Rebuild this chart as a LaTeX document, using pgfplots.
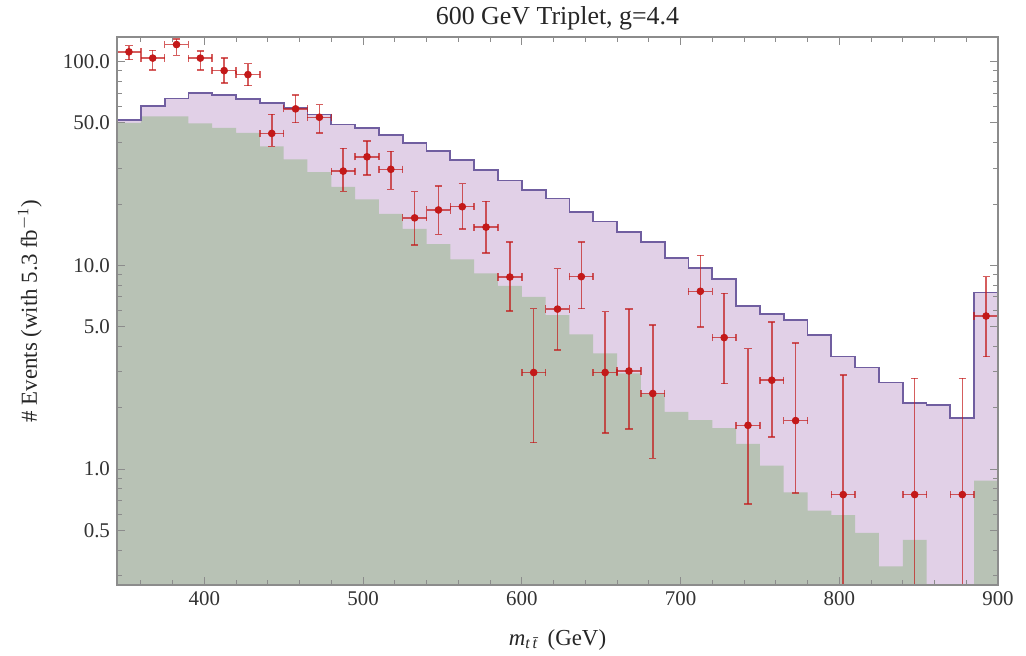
\documentclass[border=0pt]{standalone}
\usepackage{pgfplots}
\pgfplotsset{compat=1.18}
\usepackage{fontspec}
\setmainfont{Liberation Serif}
\definecolor{bgreen}{RGB}{184,194,181}
\definecolor{sigfill}{RGB}{225,208,231}
\definecolor{sigline}{RGB}{112,94,160}
\definecolor{datred}{RGB}{195,25,25}
\definecolor{framegray}{RGB}{140,140,140}
\begin{document}
\begin{tikzpicture}
\begin{axis}[
  name=ax,
  scale only axis,
  width=440.5bp, height=274bp,
  xmin=345, xmax=900,
  ymode=log, ymin=0.27, ymax=132,
  axis on top=true,
  axis line style={framegray, line width=0.6bp},
  tick style={framegray, line width=0.5bp},
  major tick length=4bp, minor tick length=2.5bp,
  xtick={400,500,600,700,800,900},
  minor xtick={360,380,...,880},
  ytick={0.5,1,5,10,50,100},
  yticklabels={0.5,1.0,5.0,10.0,50.0,100.0},
  minor ytick={0.3,0.4,0.6,0.7,0.8,0.9,2,3,4,6,7,8,9,20,30,40,60,70,80,90},
  /pgf/number format/assume math mode=true,
  tick label style={font=\fontsize{10.5}{12}\selectfont, text=black!80},
  title={600 GeV Triplet, g=4.4},
  title style={at={(axis description cs:0.5,1)}, anchor=center, yshift=3.5bp, font=\fontsize{13}{15}\selectfont, text=black!85},
  xlabel={\textit{m}\textsubscript{\textit{t\,\=t}} (GeV)},
  xlabel style={at={(axis description cs:0.5,-0.1)}, anchor=center, font=\fontsize{11.5}{13}\selectfont, text=black!85},
  ylabel={\# Events (with 5.3 fb$^{-1}$)},
  ylabel style={at={(axis description cs:-0.0988,0.5)}, anchor=center, font=\fontsize{11.5}{13}\selectfont, text=black!85},
]
% signal + background (total)
\addplot[const plot, fill=sigfill, draw=none] coordinates {
(345,0.01) (345,51.6) (360,60.4) (375,65.9) (390,70.2) (405,68.7) (420,65.6) (435,62.7)
(450,59.3) (465,55.0) (480,49.1) (495,47.3) (510,43.6) (525,39.8) (540,36.3) (555,32.8)
(570,29.3) (585,26.1) (600,23.4) (615,21.3) (630,18.3) (645,16.4) (660,14.6) (675,13.0)
(690,10.85) (705,9.67) (720,8.54) (735,6.32) (750,5.75) (765,5.39) (780,4.54) (795,3.57)
(810,3.15) (825,2.66) (840,2.12) (855,2.06) (870,1.78) (885,7.35) (900,7.35) (900,0.01)
};
% background
\addplot[const plot, fill=bgreen, draw=none] coordinates {
(345,0.01) (345,50.0) (360,53.9) (375,53.9) (390,49.7) (405,47.3) (420,44.7) (435,38.4)
(450,33.1) (465,28.7) (480,24.3) (495,21.1) (510,17.9) (525,15.1) (540,12.7) (555,10.7)
(570,9.14) (585,7.92) (600,7.0) (615,5.7) (630,4.59) (645,3.70) (660,2.95) (675,2.35)
(690,1.91) (705,1.74) (720,1.59) (735,1.33) (750,1.04) (765,0.77) (780,0.625) (795,0.595)
(810,0.486) (825,0.333) (840,0.449) (855,0.01) (870,0.01) (885,0.877) (900,0.877) (900,0.01)
};
% total outline
\addplot[const plot, draw=sigline, line width=0.9bp] coordinates {
(345,51.6) (360,60.4) (375,65.9) (390,70.2) (405,68.7) (420,65.6) (435,62.7)
(450,59.3) (465,55.0) (480,49.1) (495,47.3) (510,43.6) (525,39.8) (540,36.3) (555,32.8)
(570,29.3) (585,26.1) (600,23.4) (615,21.3) (630,18.3) (645,16.4) (660,14.6) (675,13.0)
(690,10.85) (705,9.67) (720,8.54) (735,6.32) (750,5.75) (765,5.39) (780,4.54) (795,3.57)
(810,3.15) (825,2.66) (840,2.12) (855,2.06) (870,1.78) (885,7.35) (900,7.35)
};
% data
\addplot[color=datred, only marks, mark=*, mark size=1.7bp,
  mark options={fill=datred, draw=datred, opacity=1},
  error bars/.cd, x dir=both, x explicit, y dir=both, y explicit,
  error bar style={color=datred, opacity=0.7, line width=0.75bp},
  error mark options={rotate=90, mark size=1.8bp, line width=0.75bp, color=datred, opacity=0.7}]
  table[x=x, y=y, x error=ex, y error plus=ep, y error minus=em] {
x y ex ep em
352.5 111.6 7.5 8.2 9.3
367.5 104.0 7.5 9.5 13.0
382.5 121.2 7.5 7.5 14.0
397.5 104.0 7.5 8.7 13.0
412.5 90.3 7.5 13.7 11.7
427.5 86.3 7.5 11.5 10.0
442.5 44.4 7.5 10.6 6.0
457.5 58.6 7.5 9.8 8.5
472.5 53.3 7.5 8.2 8.6
487.5 29.0 7.5 8.5 5.9
502.5 34.1 7.5 6.6 6.4
517.5 29.6 7.5 6.7 6.0
532.5 17.1 7.5 5.9 4.5
547.5 18.7 7.5 5.8 4.5
562.5 19.4 7.5 5.8 4.3
577.5 15.4 7.5 5.2 3.9
592.5 8.76 7.5 4.24 2.79
607.5 2.98 7.5 3.15 1.63
622.5 6.10 7.5 3.54 2.26
637.5 8.80 7.5 4.20 2.67
652.5 2.98 7.5 2.95 1.48
667.5 3.03 7.5 3.07 1.46
682.5 2.35 7.5 2.75 1.22
712.5 7.46 7.5 3.74 2.47
727.5 4.42 7.5 2.87 1.79
742.5 1.64 7.5 2.26 0.966
757.5 2.73 7.5 2.54 1.29
772.5 1.73 7.5 2.42 0.967
802.5 0.75 7.5 2.14 0.74
847.5 0.75 7.5 2.04 0.74
877.5 0.75 7.5 2.04 0.74
892.5 5.64 7.5 3.16 2.07
};
\end{axis}
\pgfresetboundingbox
\path[use as bounding box] ([shift={(-58.5bp,-35.5bp)}]ax.south west) rectangle ([shift={(14bp,18.5bp)}]ax.north east);
\end{tikzpicture}
\end{document}
